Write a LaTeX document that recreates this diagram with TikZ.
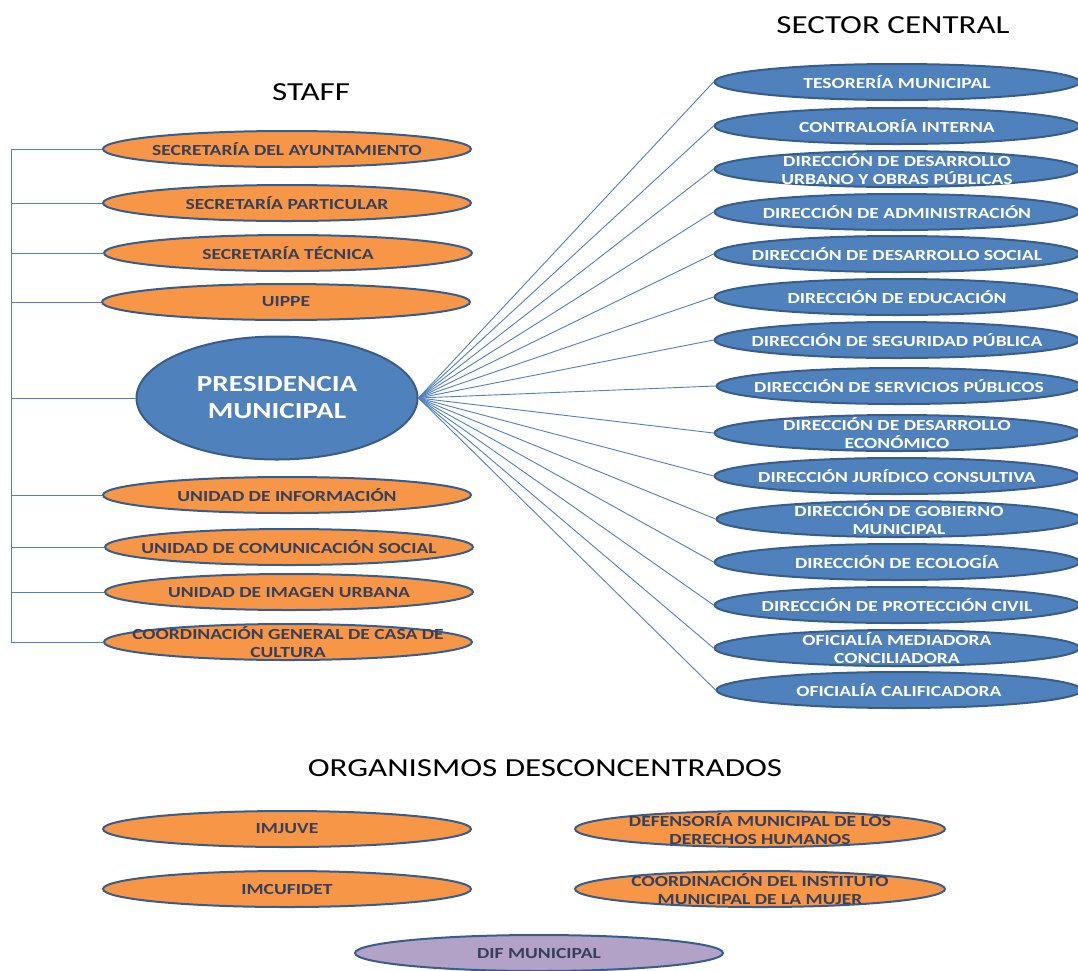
\documentclass[tikz,border=0pt]{standalone}
\usepackage{fontspec}
\setmainfont[FakeStretch=1.27]{Carlito}
\usetikzlibrary{shapes.geometric}
\definecolor{orangefill}{HTML}{F79646}
\definecolor{bluefill}{HTML}{4F81BD}
\definecolor{edgeblue}{HTML}{385D8A}
\definecolor{purplefill}{HTML}{B3A2C7}
\definecolor{darktext}{HTML}{36405A}
\definecolor{linkblue}{HTML}{4F81BD}
\tikzset{
  oval/.style={ellipse, draw=edgeblue, line width=2pt, minimum width=368pt, minimum height=36pt,
    inner xsep=-70pt, inner ysep=-6pt, align=center, font=\fontsize{15.4}{18}\selectfont\bfseries},
  staffbox/.style={oval, fill=orangefill, text=darktext},
  secbox/.style={oval, fill=bluefill, text=white, minimum width=365pt},
  purplebox/.style={oval, fill=purplefill, text=darktext},
  title/.style={font=\fontsize{26}{30}\selectfont, text=black},
  link/.style={draw=linkblue, line width=0.9pt},
}
\begin{document}
\begin{tikzpicture}[x=1pt,y=-1pt]
\useasboundingbox (0,0) rectangle (1078,970);
% titles
\node[title] (tsector) at (893,25) {SECTOR CENTRAL};
\node[title] (tstaff) at (311,92) {STAFF};
\node[title] (torg) at (545,768) {ORGANISMOS DESCONCENTRADOS};
% staff
\node[staffbox] (s1) at (287,149) {SECRETARÍA DEL AYUNTAMIENTO};
\node[staffbox] (s2) at (287,203) {SECRETARÍA PARTICULAR};
\node[staffbox] (s3) at (288,253) {SECRETARÍA TÉCNICA};
\node[staffbox] (s4) at (286,302) {UIPPE};
\node[staffbox] (s5) at (287,495) {UNIDAD DE INFORMACIÓN};
\node[staffbox] (s6) at (289,547) {UNIDAD DE COMUNICACIÓN SOCIAL};
\node[staffbox] (s7) at (289,592) {UNIDAD DE IMAGEN URBANA};
\node[staffbox] (s8) at (288,642) {COORDINACIÓN GENERAL DE CASA DE\\CULTURA};
% presidencia
\node[ellipse, draw=edgeblue, line width=2pt, fill=bluefill, minimum width=281pt, minimum height=123pt,
  inner sep=0pt, align=center, text=white, font=\fontsize{23}{27}\selectfont\bfseries] (p) at (277,398) {PRESIDENCIA\\MUNICIPAL};
% left bracket
\coordinate (top) at (11,149);
\coordinate (bot) at (11,642);
\draw[link] (top) -- (bot);
\foreach \n in {s1,s2,s3,s4,s5,s6,s7,s8} {\draw[link] (11,0 |- \n.west) -- (\n.west);}
\draw[link] (11,0 |- p.west) -- (p.west);
% sector central
\node[secbox] (c1) at (897,82) {TESORERÍA MUNICIPAL};
\node[secbox] (c2) at (897,126) {CONTRALORÍA INTERNA};
\node[secbox] (c3) at (897,169) {DIRECCIÓN DE DESARROLLO\\URBANO Y OBRAS PÚBLICAS};
\node[secbox] (c4) at (897,212) {DIRECCIÓN DE ADMINISTRACIÓN};
\node[secbox] (c5) at (897,254) {DIRECCIÓN DE DESARROLLO SOCIAL};
\node[secbox] (c6) at (897,297) {DIRECCIÓN DE EDUCACIÓN};
\node[secbox] (c7) at (897,340) {DIRECCIÓN DE SEGURIDAD PÚBLICA};
\node[secbox] (c8) at (899,386) {DIRECCIÓN DE SERVICIOS PÚBLICOS};
\node[secbox] (c9) at (897,433) {DIRECCIÓN DE DESARROLLO\\ECONÓMICO};
\node[secbox] (c10) at (897,476) {DIRECCIÓN JURÍDICO CONSULTIVA};
\node[secbox] (c11) at (899,519) {DIRECCIÓN DE GOBIERNO\\MUNICIPAL};
\node[secbox] (c12) at (897,562) {DIRECCIÓN DE ECOLOGÍA};
\node[secbox] (c13) at (897,605) {DIRECCIÓN DE PROTECCIÓN CIVIL};
\node[secbox] (c14) at (897,648) {OFICIALÍA MEDIADORA\\CONCILIADORA};
\node[secbox] (c15) at (899,690) {OFICIALÍA CALIFICADORA};
\foreach \n in {c1,c2,c3,c4,c5,c6,c7,c8,c9,c10,c11,c12,c13,c14,c15} {\draw[link] (p.east) -- (\n.west);}
% organismos
\node[staffbox] (o1) at (287,829) {IMJUVE};
\node[staffbox] (o2) at (287,889) {IMCUFIDET};
\node[staffbox, minimum width=370pt] (o3) at (760,829) {DEFENSORÍA MUNICIPAL DE LOS\\DERECHOS HUMANOS};
\node[staffbox, minimum width=370pt] (o4) at (760,889) {COORDINACIÓN DEL INSTITUTO\\MUNICIPAL DE LA MUJER};
\node[purplebox] (o5) at (539,953) {DIF MUNICIPAL};
\end{tikzpicture}
\end{document}
